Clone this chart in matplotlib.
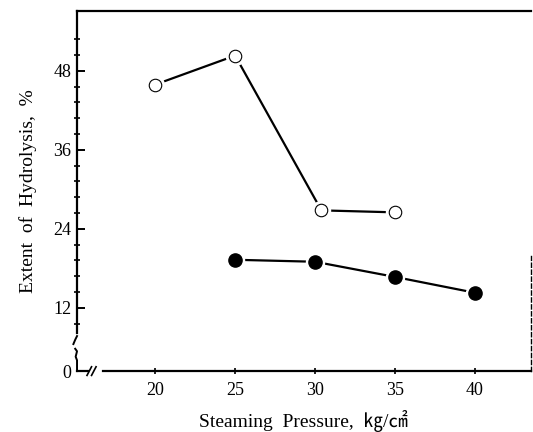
import matplotlib
matplotlib.use("Agg")
import matplotlib.pyplot as plt
import numpy as np

# open circles
open_x = [20, 25, 30.4, 35]
open_y = [45.9, 50.3, 26.8, 26.5]
# filled circles
fill_x = [25, 30, 35, 40]
fill_y = [19.3, 19.0, 16.7, 14.3]

x_ticks = [20, 25, 30, 35, 40]
y_ticks = [12, 24, 36, 48]
y_bottom = 2.4   # bottom of the broken axis, labelled "0"

plt.rcParams['font.family'] = ['Liberation Serif', 'Noto Sans CJK JP', 'DejaVu Sans']

fig = plt.figure(figsize=(5.33, 4.32), dpi=100)
ax = fig.add_axes([0.1445, 0.141, 0.851, 0.834])
ax.set_xlim(15.1, 43.5)
ax.set_ylim(y_bottom, 57.1)

# white halo first so the lines stop short of the markers
ax.plot(open_x, open_y, color='black', lw=1.6, zorder=2)
ax.plot(fill_x, fill_y, color='black', lw=1.6, zorder=2)
ax.plot(open_x, open_y, 'o', ms=13, mfc='white', mec='white', zorder=3)
ax.plot(fill_x, fill_y, 'o', ms=13, mfc='white', mec='white', zorder=3)
ax.plot(open_x, open_y, 'o', ms=9, mfc='white', mec='black', mew=0.8, zorder=4)
ax.plot(fill_x, fill_y, 'o', ms=9.5, mfc='black', mec='black', zorder=4)

# spines
for s in ax.spines.values():
    s.set_linewidth(1.6)
ax.spines['left'].set_bounds(8.2, 57.1)
ax.spines['bottom'].set_bounds(16.7, 43.5)
ax.spines['right'].set_bounds(y_bottom, 19.8)
ax.spines['right'].set_linestyle((0, (3, 2)))
ax.spines['right'].set_linewidth(1.0)

# axis breaks
tr = ax.transAxes
ax.plot([0, -0.004, -0.008], [0.0972, 0.087, 0.075], color='black', lw=1.4, transform=tr, clip_on=False)
ax.plot([-0.004, 0.0, -0.003, 0.0, 0.0], [0.062, 0.055, 0.040, 0.030, 0.0],
        color='black', lw=1.4, transform=tr, clip_on=False)
ax.plot([0, 0.025], [0, 0], color='black', lw=1.6, transform=tr, clip_on=False)
ax.plot([0.022, 0.032], [-0.012, 0.012], color='black', lw=1.2, transform=tr, clip_on=False)
ax.plot([0.032, 0.042], [-0.012, 0.012], color='black', lw=1.2, transform=tr, clip_on=False)

# ticks
ax.set_xticks(x_ticks)
ax.set_xticklabels([str(v) for v in x_ticks])
ax.set_yticks([y_bottom] + y_ticks)
ax.set_yticklabels(['0'] + [str(v) for v in y_ticks])
ax.set_yticks(np.arange(9.6, 53.0, 2.4), minor=True)
ax.tick_params(axis='y', which='major', direction='in', length=6, width=1.4, labelsize=13, pad=4)
ax.tick_params(axis='y', which='minor', direction='inout', length=4, width=1.2)
ax.tick_params(axis='x', which='major', direction='inout', length=4, width=1.2, labelsize=13, pad=6)
ax.tick_params(top=False, right=False)

ax.set_ylabel('Extent  of  Hydrolysis,  %', fontsize=14, labelpad=12)
ax.set_xlabel('Steaming  Pressure,  ㎏/㎠', fontsize=14, labelpad=8)

fig.savefig('out.png', dpi=100)
